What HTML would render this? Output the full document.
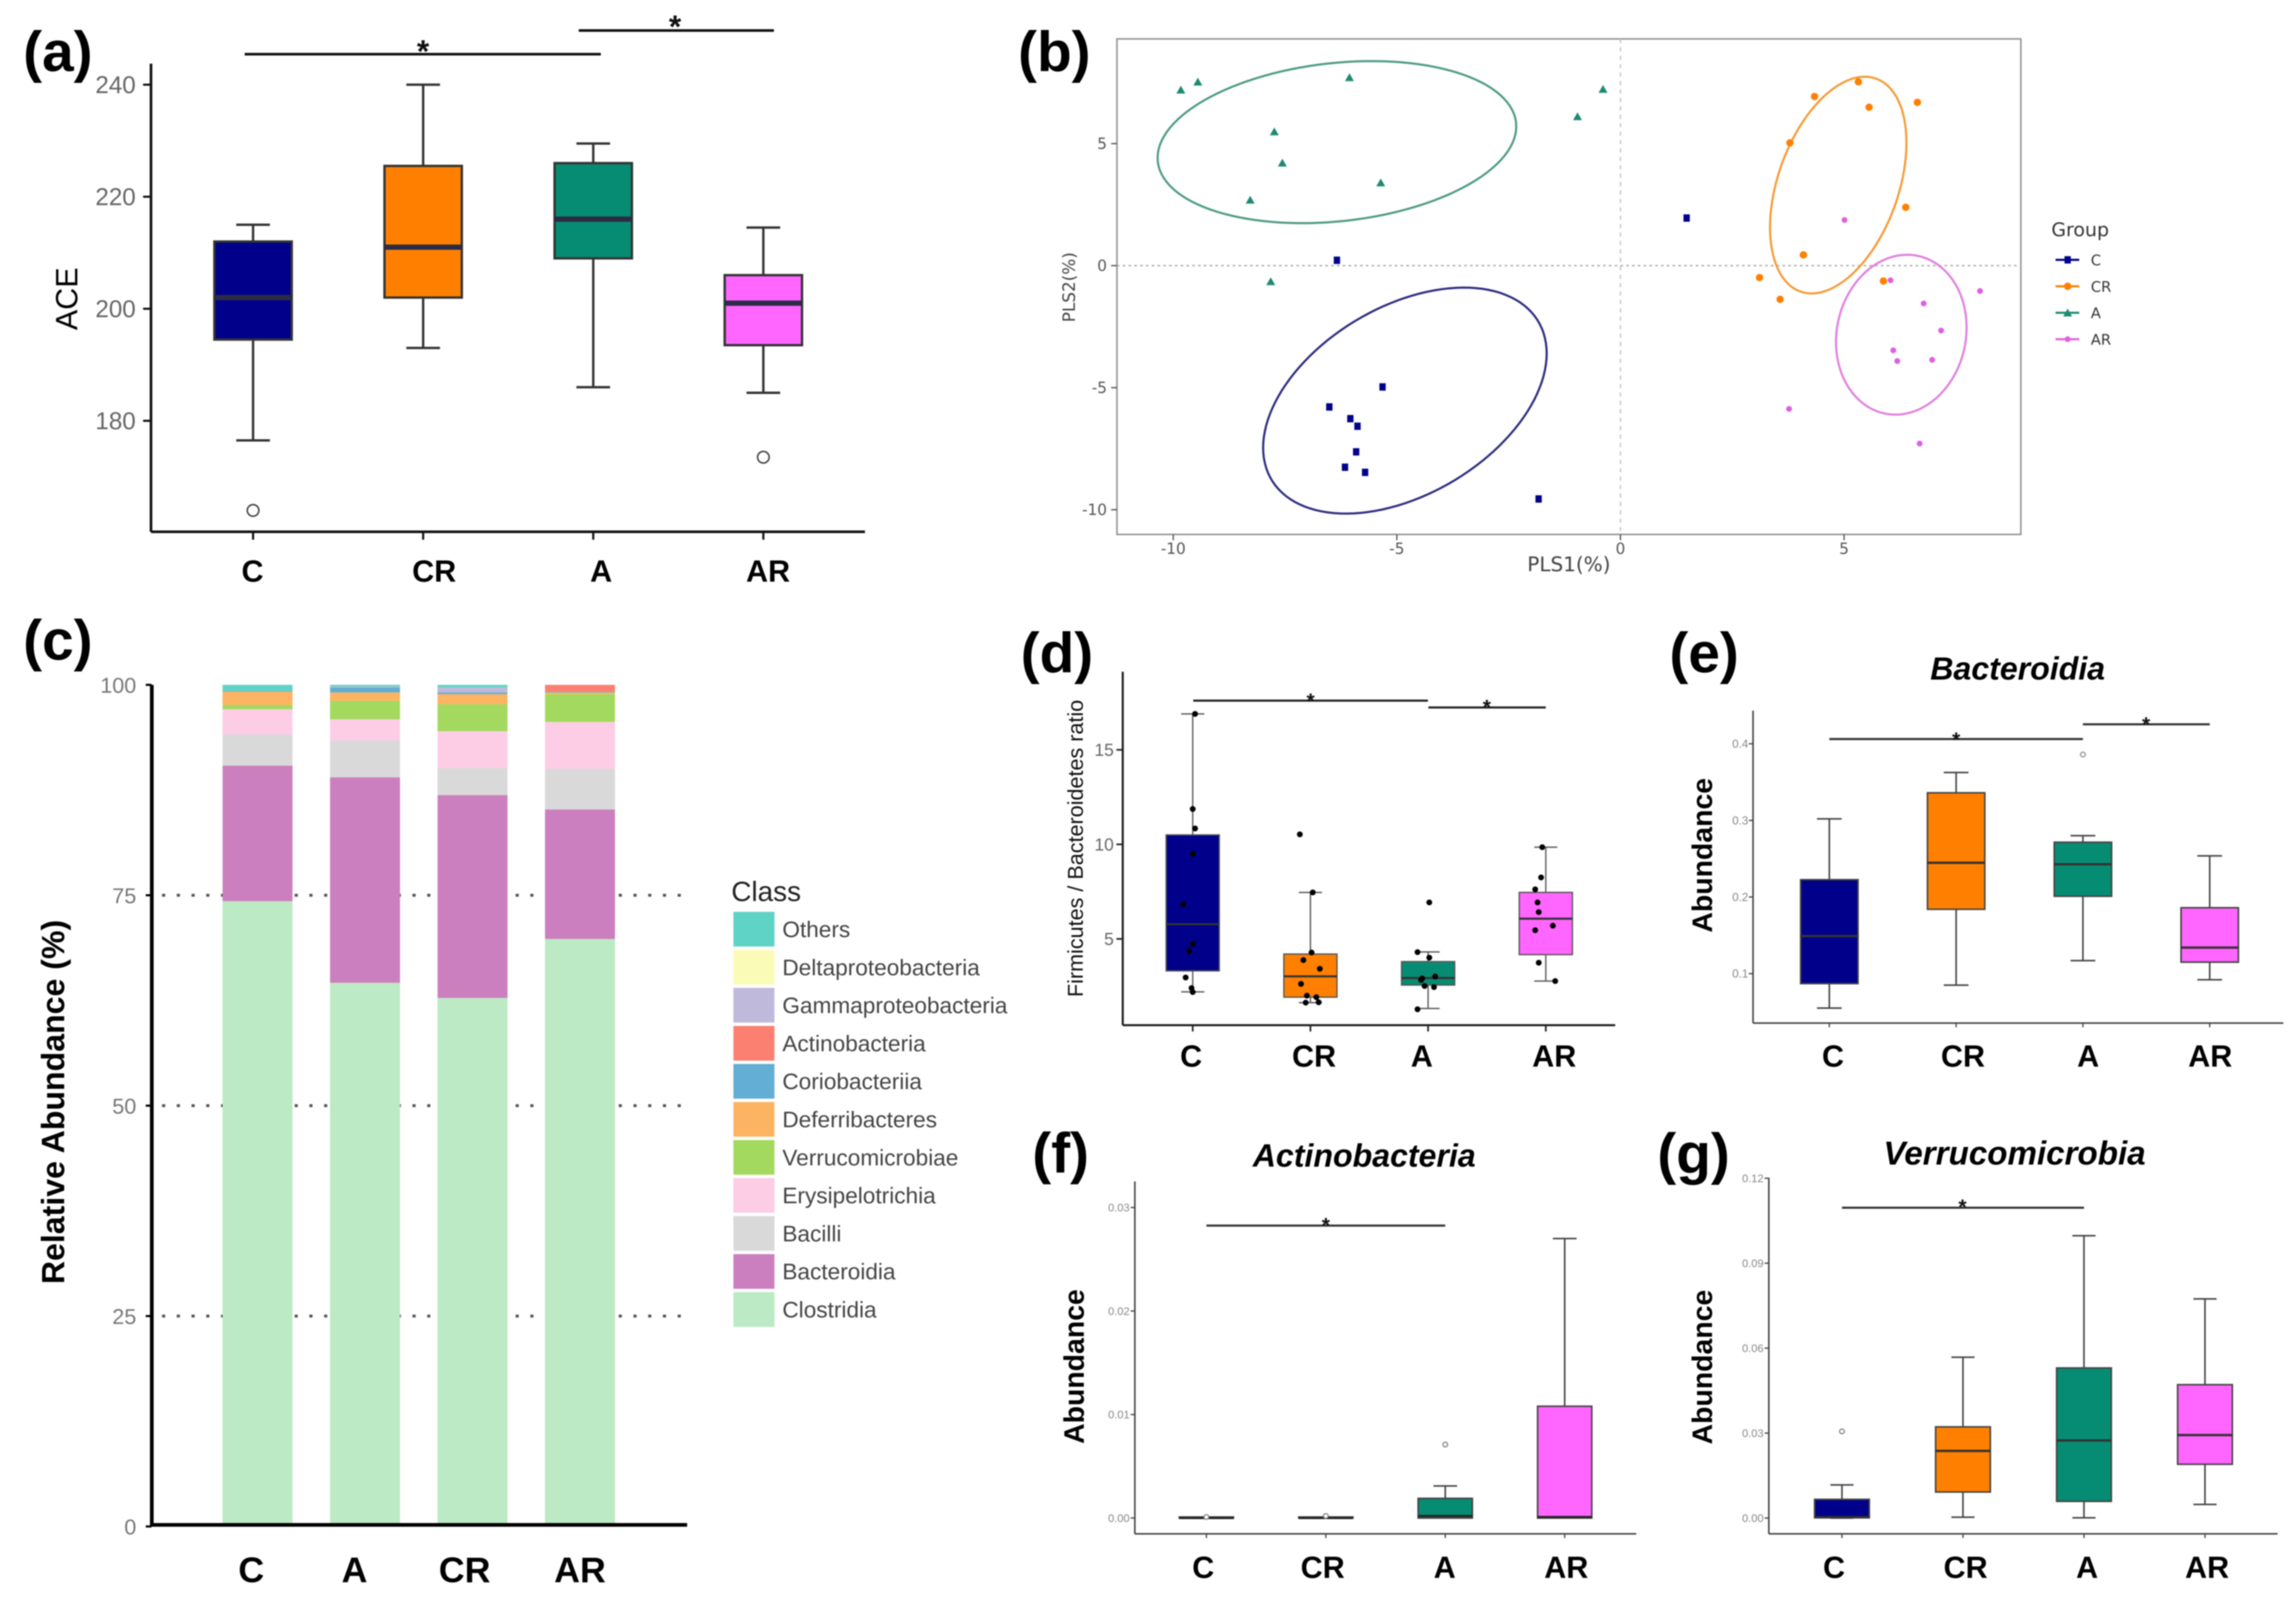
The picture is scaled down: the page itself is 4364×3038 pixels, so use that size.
<!DOCTYPE html>
<html lang="en">
<head>
<meta charset="utf-8">
<title>Gut microbiota multi-panel figure</title>
<style>
html,body{margin:0;padding:0;background:#fff;width:4364px;height:3038px;overflow:hidden}
svg{display:block;filter:blur(1.1px)}
text{font-family:"Liberation Sans",sans-serif}
.panel-letter{font-size:108px;font-weight:700;fill:#000}
.ytitle-bold{font-size:54px;font-weight:700;fill:#000}
.ctitle{font-weight:700;font-style:italic;fill:#000;text-anchor:middle}
.star{font-weight:700;fill:#111;text-anchor:middle}
.dv{font-family:"DejaVu Sans",sans-serif}
</style>
</head>
<body>
<svg id="figure" xmlns="http://www.w3.org/2000/svg" width="4364" height="3038" viewBox="0 0 4364 3038">
<rect x="0" y="0" width="4364" height="3038" fill="#fff"/>

<g id="panel-a">
  <text class="panel-letter" x="44" y="135">(a)</text>
  <text transform="translate(147,568) rotate(-90)" text-anchor="middle" font-size="58" fill="#000">ACE</text>
  <line x1="465" x2="1142" y1="103" y2="103" stroke="#111" stroke-width="5"/>
  <text class="star" x="804" y="118" font-size="60">*</text>
  <line x1="1100" x2="1471" y1="58" y2="58" stroke="#111" stroke-width="5"/>
  <text class="star" x="1283" y="71" font-size="60">*</text>
</g>

<g id="panel-b">
  <text class="panel-letter" x="1935" y="135">(b)</text>
  <text class="dv" x="2982" y="1086" text-anchor="middle" font-size="38" fill="#444">PLS1(%)</text>
  <text class="dv" transform="translate(2043,546) rotate(-90)" text-anchor="middle" font-size="32" fill="#444">PLS2(%)</text>
  <text class="dv" x="3899" y="449" font-size="36" fill="#333">Group</text>
</g>

<g id="panel-c">
  <text class="panel-letter" x="44" y="1254">(c)</text>
  <text transform="translate(122,2095) rotate(-90)" text-anchor="middle" font-size="61" font-weight="700" fill="#000">Relative Abundance (%)</text>
  <text x="1390" y="1713" font-size="53" fill="#222">Class</text>
</g>

<g id="panel-d">
  <text class="panel-letter" x="1940" y="1278">(d)</text>
  <text transform="translate(2058,1613) rotate(-90)" text-anchor="middle" font-size="41" fill="#111">Firmicutes / Bacteroidetes ratio</text>
  <line x1="2268" x2="2714" y1="1332" y2="1332" stroke="#222" stroke-width="4"/>
  <text class="star" x="2491" y="1346" font-size="40">*</text>
  <line x1="2715" x2="2938" y1="1345" y2="1345" stroke="#222" stroke-width="4"/>
  <text class="star" x="2826" y="1358" font-size="40">*</text>
</g>

<g id="panel-e">
  <text class="panel-letter" x="3173" y="1278">(e)</text>
  <text class="ctitle" x="3835" y="1292" font-size="61">Bacteroidia</text>
  <text class="ytitle-bold" transform="translate(3254,1626) rotate(-90)" text-anchor="middle">Abundance</text>
  <line x1="3477" x2="3959" y1="1405" y2="1405" stroke="#333" stroke-width="4"/>
  <text class="star" x="3718" y="1420" font-size="40">*</text>
  <line x1="3959" x2="4200" y1="1377" y2="1377" stroke="#333" stroke-width="4"/>
  <text class="star" x="4079" y="1391" font-size="40">*</text>
</g>

<g id="panel-f">
  <text class="panel-letter" x="1962" y="2229">(f)</text>
  <text class="ctitle" x="2593" y="2218" font-size="61">Actinobacteria</text>
  <text class="ytitle-bold" transform="translate(2060,2598) rotate(-90)" text-anchor="middle">Abundance</text>
  <line x1="2293" x2="2747" y1="2330" y2="2330" stroke="#333" stroke-width="4"/>
  <text class="star" x="2520" y="2343" font-size="40">*</text>
</g>

<g id="panel-g">
  <text class="panel-letter" x="3150" y="2230">(g)</text>
  <text class="ctitle" x="3829" y="2214" font-size="63">Verrucomicrobia</text>
  <text class="ytitle-bold" transform="translate(3254,2599) rotate(-90)" text-anchor="middle">Abundance</text>
  <line x1="3501" x2="3961" y1="2296" y2="2296" stroke="#333" stroke-width="4"/>
  <text class="star" x="3730" y="2308" font-size="40">*</text>
</g>
</svg>

<script>
/* ---------- DATA ---------- */
const boxCats = ['C','CR','A','AR'];
const groupColors = ['#00008B','#FF8000','#068C72','#FF66FF'];

/* panel a: ACE */
const aTicks = [180,200,220,240];
const aTickLabels = ['180','200','220','240'];
const aLow = [176.5,193,186,185];
const aQ1 = [194.5,202,209,193.5];
const aMedian = [202,211,216,201];
const aQ3 = [212,225.5,226,206];
const aHigh = [215,240,229.5,214.5];
const aOutlier = [164,null,null,173.5];

/* panel b: PLS-DA scores */
const bGroups = ['C','CR','A','AR'];
const bTicksX = [-10,-5,0,5];
const bTicksXLabels = ['-10','-5','0','5'];
const bTicksY = [-10,-5,0,5];
const bTicksYLabels = ['-10','-5','0','5'];
const bPls1C = [1.48,-6.34,-5.32,-6.51,-6.04,-5.88,-5.91,-6.16,-5.71,-1.83];
const bPls2C = [1.95,0.22,-4.97,-5.79,-6.27,-6.58,-7.63,-8.26,-8.47,-9.56];
const bPls1CR = [5.32,4.34,5.56,6.64,3.79,6.38,4.09,3.11,5.88,3.57];
const bPls2CR = [7.53,6.93,6.49,6.69,5.03,2.39,0.44,-0.49,-0.63,-1.38];
const bPls1A = [-9.83,-9.45,-6.06,-0.39,-0.96,-7.74,-7.56,-5.36,-8.28,-7.82];
const bPls2A = [7.2,7.53,7.71,7.23,6.11,5.49,4.21,3.4,2.69,-0.65];
const bPls1AR = [5.01,6.04,8.04,6.78,7.17,6.1,6.19,6.97,3.77,6.69];
const bPls2AR = [1.87,-0.6,-1.04,-1.55,-2.66,-3.47,-3.91,-3.86,-5.87,-7.29];
/* confidence ellipses, one value per group (C, CR, A, AR) */
const bEllipseCx = [-4.82,4.87,-6.34,6.28];
const bEllipseCy = [-5.53,3.3,5.06,-2.83];
const bEllipseRx = [3.17,1.525,4.01,1.46];
const bEllipseRy = [4.63,4.44,3.32,3.275];
const bEllipseRho = [0.417,0.39,0.194,0.09];

/* panel c: stacked class abundance */
const cCats = ['C','A','CR','AR'];
const cTicks = [0,25,50,75,100];
const cTickLabels = ['0','25','50','75','100'];
const cClasses = ['Clostridia','Bacteroidia','Bacilli','Erysipelotrichia','Verrucomicrobiae','Deferribacteres','Coriobacteriia','Actinobacteria','Gammaproteobacteria','Deltaproteobacteria','Others'];
const cColors = ['#BCEAC4','#CC7FBE','#D9D9D9','#FCCDE5','#A3D95E','#FDB462','#62AED4','#FB8072','#BFB9DB','#FBFBB8','#5FD3C5'];
const cClostridia = [74.3,64.6,62.8,69.8];
const cBacteroidia = [16.1,24.4,24.1,15.4];
const cBacilli = [3.7,4.4,3.2,4.8];
const cErysipelotrichia = [3.0,2.5,4.4,5.6];
const cVerrucomicrobiae = [0.5,2.2,3.2,3.3];
const cDeferribacteres = [1.6,1.0,1.2,0.2];
const cCoriobacteriia = [0.1,0.6,0.2,0.1];
const cActinobacteria = [0,0,0,0.8];
const cGammaproteobacteria = [0,0.1,0.6,0];
const cDeltaproteobacteria = [0,0,0,0];
const cOthers = [0.7,0.2,0.3,0];

/* panel d: F/B ratio */
const dTicks = [5,10,15];
const dTickLabels = ['5','10','15'];
const dLow = [2.2,1.63,1.32,2.77];
const dQ1 = [3.31,1.92,2.56,4.17];
const dMedian = [5.78,3.02,2.93,6.07];
const dQ3 = [10.5,4.2,3.8,7.46];
const dHigh = [16.9,7.46,4.31,9.85];
const dOutlier = [null,null,null,null];
const dPointValues = [
  [16.9,11.87,10.84,9.5,6.83,4.74,4.35,2.96,2.4,2.19],
  [10.53,7.46,4.28,3.88,3.42,2.62,2.0,1.92,1.63,1.65],
  [6.93,4.3,4.01,2.91,3.01,2.83,2.51,2.45,1.28],
  [9.85,8.25,7.62,6.93,6.42,5.7,5.46,3.74,2.77]
];
const dPointJitter = [
  [0.02,0,0.02,0,-0.08,0,-0.03,-0.06,-0.01,0],
  [-0.09,0.02,0.01,-0.06,0.08,-0.08,-0.03,0.05,-0.04,0.07],
  [0.01,-0.09,0.01,-0.05,0.06,-0.06,-0.03,0.05,-0.09],
  [-0.03,-0.04,-0.09,-0.07,-0.06,0.06,-0.09,-0.06,0.08]
];

/* panel e: Bacteroidia */
const eTicks = [0.1,0.2,0.3,0.4];
const eTickLabels = ['0.1','0.2','0.3','0.4'];
const eLow = [0.055,0.085,0.117,0.092];
const eQ1 = [0.087,0.184,0.201,0.115];
const eMedian = [0.149,0.2447,0.2427,0.134];
const eQ3 = [0.2226,0.336,0.2715,0.186];
const eHigh = [0.302,0.3625,0.28,0.2537];
const eOutlier = [null,null,0.386,null];

/* panel f: Actinobacteria */
const fTicks = [0,0.01,0.02,0.03];
const fTickLabels = ['0.00','0.01','0.02','0.03'];
const fLow = [0,0,0,0];
const fQ1 = [0,0,0,0];
const fMedian = [0,0,0.0002,0.0001];
const fQ3 = [0.0001,0.0001,0.0019,0.0108];
const fHigh = [0.0001,0.0001,0.0031,0.027];
const fOutlier = [0.0001,0.0002,0.0071,null];

/* panel g: Verrucomicrobia */
const gTicks = [0,0.03,0.06,0.09,0.12];
const gTickLabels = ['0.00','0.03','0.06','0.09','0.12'];
const gLow = [0,0.0003,0.0001,0.0048];
const gQ1 = [0.0001,0.0092,0.0059,0.019];
const gMedian = [0.0003,0.0237,0.0274,0.0293];
const gQ3 = [0.0066,0.0322,0.053,0.0471];
const gHigh = [0.0117,0.0568,0.0997,0.0774];
const gOutlier = [0.0306,null,null,null];

/* ---------- HELPERS ---------- */
const NS = 'http://www.w3.org/2000/svg';
function add(parent, tag, name, attrs, label) {
  const el = document.createElementNS(NS, tag);
  
  
  for (const k in attrs) el.setAttribute(k, attrs[k]);
  if (label !== undefined) el.textContent = label;
  parent.appendChild(el);
  return el;
}
function linear(v0, p0, v1, p1) {
  const k = (p1 - p0) / (v1 - v0);
  return v => p0 + (v - v0) * k;
}
function band(start, step) {
  return i => start + i * step;
}

/* generic box-plot panel */
function boxPanel(id, L, data) {
  const root = document.getElementById('panel-' + id);
  const marks = add(root, 'g', 'plot-area-' + id, {});
  root.insertBefore(marks, root.firstChild);
  const y = linear(L.v0, L.p0, L.v1, L.p1);
  const x = band(L.catStart, L.catStep);
  /* axes */
  add(marks, 'line', 'y-axis-' + id, {x1:L.axisX, x2:L.axisX, y1:L.top, y2:L.bottom, stroke:L.axisColor, 'stroke-width':L.axisW});
  add(marks, 'line', 'x-axis-' + id, {x1:L.axisX, x2:L.right, y1:L.bottom, y2:L.bottom, stroke:L.axisColor, 'stroke-width':L.axisW});
  data.ticks.forEach((t, i) => {
    add(marks, 'line', 'y-tick-' + id, {x1:L.axisX - L.tickLen, x2:L.axisX, y1:y(t), y2:y(t), stroke:L.axisColor, 'stroke-width':L.axisW * 0.8});
    add(marks, 'text', 'y-tick-label-' + id, {x:L.tickRight, y:y(t) + L.tickFont * 0.35, 'text-anchor':'end', 'font-size':L.tickFont, fill:L.tickColor}, data.tickLabels[i]);
  });
  boxCats.forEach((c, i) => {
    const cx = x(i), hw = L.boxW / 2, cap = L.capW / 2;
    add(marks, 'line', 'x-tick-' + id, {x1:cx, x2:cx, y1:L.bottom, y2:L.bottom + L.tickLen, stroke:L.axisColor, 'stroke-width':L.axisW * 0.8});
    add(marks, 'text', 'x-tick-label-' + id, {x:cx + L.labelDx[i], y:L.labelY, 'text-anchor':'middle', 'font-size':L.labelFont, 'font-weight':700, fill:'#000'}, c);
    const g = add(marks, 'g', 'box-' + id + '-' + c, {});
    add(g, 'line', 'whisker-upper', {x1:cx, x2:cx, y1:y(data.q3[i]), y2:y(data.high[i]), stroke:L.stroke, 'stroke-width':L.sw});
    add(g, 'line', 'whisker-lower', {x1:cx, x2:cx, y1:y(data.q1[i]), y2:y(data.low[i]), stroke:L.stroke, 'stroke-width':L.sw});
    add(g, 'line', 'whisker-cap-upper', {x1:cx - cap, x2:cx + cap, y1:y(data.high[i]), y2:y(data.high[i]), stroke:L.stroke, 'stroke-width':L.sw});
    add(g, 'line', 'whisker-cap-lower', {x1:cx - cap, x2:cx + cap, y1:y(data.low[i]), y2:y(data.low[i]), stroke:L.stroke, 'stroke-width':L.sw});
    add(g, 'rect', 'box', {x:cx - hw, width:L.boxW, y:y(data.q3[i]), height:Math.max(y(data.q1[i]) - y(data.q3[i]), 1), fill:groupColors[i], stroke:L.stroke, 'stroke-width':L.sw});
    add(g, 'line', 'median', {x1:cx - hw, x2:cx + hw, y1:y(data.median[i]), y2:y(data.median[i]), stroke:L.medianColor, 'stroke-width':L.medianW});
    if (data.outlier[i] !== null) {
      add(g, 'circle', 'outlier', {cx:cx, cy:y(data.outlier[i]), r:L.outR, fill:'#fff', stroke:L.outColor, 'stroke-width':L.outW});
    }
    if (data.points) {
      data.points[i].forEach((p, j) => {
        add(g, 'circle', 'sample-point', {cx:cx + data.jitter[i][j] * L.catStep, cy:y(p), r:L.ptR, fill:'#000'});
      });
    }
  });
}

/* ---------- PANEL A ---------- */
boxPanel('a', {v0:200,p0:587,v1:240,p1:161,catStart:481,catStep:323.3,top:121,bottom:1011,axisX:287,right:1644,axisColor:'#111',axisW:5,tickLen:15,tickRight:258,tickFont:46,tickColor:'#666',labelDx:[-1,21,15,9],labelY:1106,labelFont:58,boxW:147,capW:64,stroke:'#333',sw:4.5,medianColor:'#2b2b45',medianW:10,outR:11,outColor:'#444',outW:3},
  {ticks:aTicks,tickLabels:aTickLabels,low:aLow,q1:aQ1,median:aMedian,q3:aQ3,high:aHigh,outlier:aOutlier});

/* ---------- PANEL D ---------- */
boxPanel('d', {v0:5,p0:1785,v1:15,p1:1425.5,catStart:2267,catStep:223.7,top:1277,bottom:1949,axisX:2134,right:3070,axisColor:'#222',axisW:4,tickLen:12,tickRight:2117,tickFont:33,tickColor:'#666',labelDx:[-3,7,-12,16],labelY:2028,labelFont:58,boxW:101,capW:44,stroke:'#555',sw:2.5,medianColor:'#333',medianW:4,outR:4,outColor:'#777',outW:2,ptR:5.5},
  {ticks:dTicks,tickLabels:dTickLabels,low:dLow,q1:dQ1,median:dMedian,q3:dQ3,high:dHigh,outlier:dOutlier,points:dPointValues,jitter:dPointJitter});

/* ---------- PANEL E ---------- */
boxPanel('e', {v0:0.1,p0:1851,v1:0.4,p1:1414,catStart:3477,catStep:241,top:1351,bottom:1945,axisX:3332,right:4340,axisColor:'#444',axisW:3,tickLen:8,tickRight:3323,tickFont:22,tickColor:'#888',labelDx:[7,13,10,1],labelY:2028,labelFont:58,boxW:109,capW:47,stroke:'#444',sw:3,medianColor:'#333',medianW:4.5,outR:4.5,outColor:'#888',outW:2},
  {ticks:eTicks,tickLabels:eTickLabels,low:eLow,q1:eQ1,median:eMedian,q3:eQ3,high:eHigh,outlier:eOutlier});

/* ---------- PANEL F ---------- */
boxPanel('f', {v0:0,p0:2886,v1:0.03,p1:2295.6,catStart:2293,catStep:227,top:2246,bottom:2916,axisX:2157,right:3110,axisColor:'#444',axisW:3,tickLen:8,tickRight:2147,tickFont:21,tickColor:'#888',labelDx:[-6,-6,-1,3],labelY:3000,labelFont:58,boxW:103,capW:45,stroke:'#444',sw:3,medianColor:'#222',medianW:4,outR:4.5,outColor:'#777',outW:2},
  {ticks:fTicks,tickLabels:fTickLabels,low:fLow,q1:fQ1,median:fMedian,q3:fQ3,high:fHigh,outlier:fOutlier});

/* ---------- PANEL G ---------- */
boxPanel('g', {v0:0,p0:2886,v1:0.12,p1:2240,catStart:3501,catStep:230,top:2239,bottom:2916,axisX:3362,right:4329,axisColor:'#444',axisW:3,tickLen:8,tickRight:3352,tickFont:21,tickColor:'#888',labelDx:[-15,5,6,4],labelY:3000,labelFont:58,boxW:104,capW:44,stroke:'#444',sw:3,medianColor:'#333',medianW:4.5,outR:4.5,outColor:'#777',outW:2},
  {ticks:gTicks,tickLabels:gTickLabels,low:gLow,q1:gQ1,median:gMedian,q3:gQ3,high:gHigh,outlier:gOutlier});

/* ---------- PANEL B ---------- */
(function () {
  const root = document.getElementById('panel-b');
  const plot = add(root, 'g', 'plot-area-b', {});
  root.insertBefore(plot, root.firstChild);
  const x = linear(0, 3080, 5, 3505);
  const y = linear(0, 505, 5, 273);
  const left = 2123, right = 3841, top = 74, bottom = 1016;
  add(plot, 'rect', 'plot-frame-b', {x:left, y:top, width:right - left, height:bottom - top, fill:'#fff', stroke:'#959595', 'stroke-width':3});
  add(plot, 'line', 'zero-line-vertical', {x1:x(0), x2:x(0), y1:top, y2:bottom, stroke:'#c4c4c4', 'stroke-width':2.5, 'stroke-dasharray':'8 8'});
  add(plot, 'line', 'zero-line-horizontal', {x1:left, x2:right, y1:y(0), y2:y(0), stroke:'#b4b4b4', 'stroke-width':3, 'stroke-dasharray':'5 6'});
  bTicksX.forEach((t, i) => {
    add(plot, 'line', 'x-tick-b', {x1:x(t), x2:x(t), y1:bottom, y2:bottom + 11, stroke:'#555', 'stroke-width':2.5});
    add(plot, 'text', 'x-tick-label-b', {class:'dv', x:x(t), y:1053, 'text-anchor':'middle', 'font-size':29, fill:'#555'}, bTicksXLabels[i]);
  });
  bTicksY.forEach((t, i) => {
    add(plot, 'line', 'y-tick-b', {x1:left - 11, x2:left, y1:y(t), y2:y(t), stroke:'#555', 'stroke-width':2.5});
    add(plot, 'text', 'y-tick-label-b', {class:'dv', x:2104, y:y(t) + 10, 'text-anchor':'end', 'font-size':29, fill:'#555'}, bTicksYLabels[i]);
  });
  const ellipseColors = ['#2B2B80','#F59A35','#4D9A85','#E07FE0'];
  const pointColors = ['#00008B','#FF8000','#1E8A72','#E060E0'];
  const ellipseLoop = [];
  for (let a = 0; a <= 120; a++) ellipseLoop.push(a / 120 * 2 * Math.PI);
  bGroups.forEach((name, i) => {
    const s = Math.sqrt(1 - bEllipseRho[i] * bEllipseRho[i]);
    const d = ellipseLoop.map((t, k) => {
      const dx = bEllipseCx[i] + bEllipseRx[i] * Math.cos(t);
      const dy = bEllipseCy[i] + bEllipseRy[i] * (bEllipseRho[i] * Math.cos(t) + s * Math.sin(t));
      return (k ? 'L' : 'M') + x(dx).toFixed(1) + ' ' + y(dy).toFixed(1);
    }).join('') + 'Z';
    add(plot, 'path', 'confidence-ellipse-' + name, {d:d, fill:'none', stroke:ellipseColors[i], 'stroke-width':4});
  });
  function marker(parent, group, px, py, label) {
    if (group === 0) {
      add(parent, 'rect', label, {x:px - 6, y:py - 7, width:12, height:14, fill:pointColors[0]});
    } else if (group === 1) {
      add(parent, 'circle', label, {cx:px, cy:py, r:7, fill:pointColors[1]});
    } else if (group === 2) {
      add(parent, 'polygon', label, {points:(px - 8.5) + ',' + (py + 7) + ' ' + (px + 8.5) + ',' + (py + 7) + ' ' + px + ',' + (py - 8), fill:pointColors[2]});
    } else {
      add(parent, 'circle', label, {cx:px, cy:py, r:5.5, fill:pointColors[3]});
    }
  }
  const xs = [bPls1C, bPls1CR, bPls1A, bPls1AR];
  const ys = [bPls2C, bPls2CR, bPls2A, bPls2AR];
  bGroups.forEach((name, i) => {
    const g = add(plot, 'g', 'points-' + name, {});
    xs[i].forEach((v, j) => marker(g, i, x(v), y(ys[i][j]), 'point-' + name));
  });
  bGroups.forEach((name, i) => {
    const ky = 494 + i * 50.3;
    const g = add(plot, 'g', 'legend-entry-' + name, {});
    add(g, 'line', 'legend-key-line', {x1:3907, x2:3952, y1:ky, y2:ky, stroke:pointColors[i], 'stroke-width':4});
    marker(g, i, 3930, ky, 'legend-key-marker');
    add(g, 'text', 'legend-label', {class:'dv', x:3974, y:ky + 10, 'font-size':28, fill:'#333'}, name);
  });
})();

/* ---------- PANEL C ---------- */
(function () {
  const root = document.getElementById('panel-c');
  const plot = add(root, 'g', 'plot-area-c', {});
  root.insertBefore(plot, root.firstChild);
  const y = linear(0, 2902, 100, 1302);
  const x = band(489.5, 204.3);
  const barW = 133;
  const series = [cClostridia, cBacteroidia, cBacilli, cErysipelotrichia, cVerrucomicrobiae, cDeferribacteres, cCoriobacteriia, cActinobacteria, cGammaproteobacteria, cDeltaproteobacteria, cOthers];
  cTicks.forEach((t, i) => {
    if (t > 0 && t < 100) {
      add(plot, 'line', 'gridline-c', {x1:308, x2:1306, y1:y(t), y2:y(t), stroke:'#555', 'stroke-width':5.5, 'stroke-dasharray':'6 22'});
    }
    add(plot, 'text', 'y-tick-label-c', {x:259, y:y(t) + 15, 'text-anchor':'end', 'font-size':41, fill:'#777'}, cTickLabels[i]);
    add(plot, 'line', 'y-tick-c', {x1:277, x2:288, y1:y(t), y2:y(t), stroke:'#000', 'stroke-width':4});
  });
  const labelDx = [-12, -20, -15, 0];
  cCats.forEach((c, i) => {
    let base = 0;
    const g = add(plot, 'g', 'stacked-bar-' + c, {});
    series.forEach((vals, s) => {
      if (vals[i] > 0) {
        add(g, 'rect', 'segment-' + cClasses[s].toLowerCase(), {x:x(i) - barW / 2, width:barW, y:y(base + vals[i]), height:y(base) - y(base + vals[i]), fill:cColors[s]});
      }
      base += vals[i];
    });
    add(plot, 'text', 'x-tick-label-c', {x:x(i) + labelDx[i], y:3008, 'text-anchor':'middle', 'font-size':68, 'font-weight':700, fill:'#000'}, c);
  });
  add(plot, 'line', 'y-axis-c', {x1:288.5, x2:288.5, y1:1302, y2:2902, stroke:'#000', 'stroke-width':7});
  add(plot, 'line', 'x-axis-c', {x1:285, x2:1306, y1:2899, y2:2899, stroke:'#000', 'stroke-width':7});
  /* legend listed top-down from Others to Clostridia */
  for (let s = cClasses.length - 1, row = 0; s >= 0; s--, row++) {
    const cy = 1766.5 + row * 72.3;
    const g = add(root, 'g', 'legend-entry-' + cClasses[s].toLowerCase(), {});
    add(g, 'rect', 'legend-swatch', {x:1394, y:cy - 33, width:78, height:66, fill:cColors[s]});
    add(g, 'text', 'legend-label', {x:1487, y:cy + 15, 'font-size':43, fill:'#444'}, cClasses[s]);
  }
})();
</script>
</body>
</html>
